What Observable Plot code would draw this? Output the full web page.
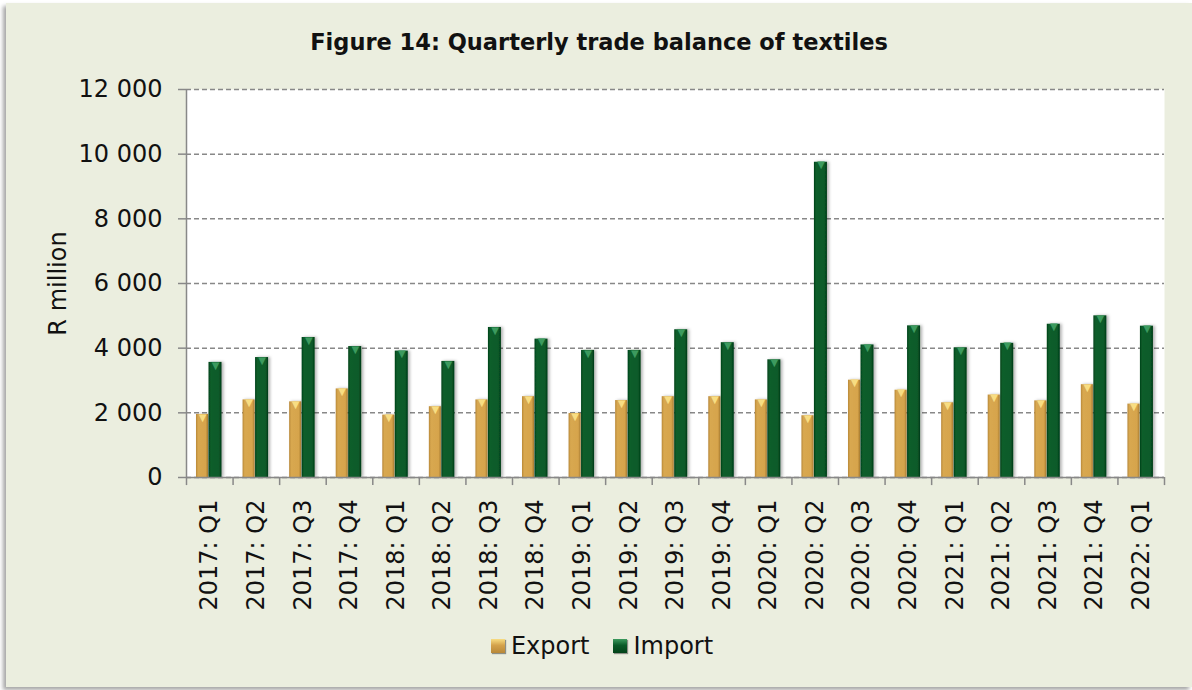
<!DOCTYPE html>
<html>
<head>
<meta charset="utf-8">
<script src="https://cdn.jsdelivr.net/npm/d3@7"></script>
<script src="https://cdn.jsdelivr.net/npm/@observablehq/plot@0.6"></script>
<style>
  html, body { margin: 0; padding: 0; background: #ffffff; }
  #page { position: relative; width: 1192px; height: 690px; overflow: hidden; font-family: "DejaVu Sans", sans-serif; }
  #frame { position: absolute; left: 6px; top: 3px; width: 1186px; height: 684px; background: #EBEEDF;
           box-shadow: -3px 3px 4px rgba(0,0,0,0.35); }
  #title { position: absolute; left: 6px; width: 1186px; top: 29px; text-align: center; font-weight: bold; font-size: 22.5px; color: #111; }
  #chart { position: absolute; left: 0; top: 60px; }
  #legend { position: absolute; left: 6px; width: 1192px; top: 632px; display: flex; justify-content: center; align-items: center; font-size: 24px; color: #111; }
  .sw { width: 14px; height: 14px; display: inline-block; margin-right: 6px; box-shadow: 1px 1px 1px rgba(0,0,0,0.4); }
  .item { display: flex; align-items: center; margin: 0 12px; }
</style>
</head>
<body>
<div id="page">
  <div id="frame"></div>
  <div id="title">Figure 14: Quarterly trade balance of textiles</div>
  <div id="chart"></div>
  <div id="legend"></div>
</div>
<script>
const quarters = ["2017: Q1","2017: Q2","2017: Q3","2017: Q4","2018: Q1","2018: Q2","2018: Q3","2018: Q4",
  "2019: Q1","2019: Q2","2019: Q3","2019: Q4","2020: Q1","2020: Q2","2020: Q3","2020: Q4",
  "2021: Q1","2021: Q2","2021: Q3","2021: Q4","2022: Q1"];
const exportValues = [1950, 2400, 2340, 2740, 1930, 2190, 2400, 2500, 1980, 2380, 2500, 2500, 2400, 1910, 3010, 2700, 2310, 2550, 2370, 2870, 2270];
const importValues = [3560, 3710, 4330, 4050, 3910, 3590, 4640, 4280, 3930, 3930, 4570, 4170, 3640, 9750, 4100, 4690, 4010, 4150, 4740, 5000, 4680];
const seriesNames = ["Export", "Import"];
const yTicks = [0, 2000, 4000, 6000, 8000, 10000, 12000];

const rows = quarters.flatMap((q, i) => [
  {quarter: q, series: seriesNames[0], value: exportValues[i]},
  {quarter: q, series: seriesNames[1], value: importValues[i]}
]);
const exp = rows.filter(d => d.series === "Export");
const imp = rows.filter(d => d.series === "Import");

const W = 1192, H = 570, mL = 186, mR = 28, mT = 29, mB = 153;
const step = (W - mL - mR) / quarters.length;
const fmt = d => d3.format(",")(d).replace(/,/g, " ");

const chart = Plot.plot({
  width: W, height: H,
  marginLeft: mL, marginRight: mR, marginTop: mT, marginBottom: mB,
  style: {fontFamily: "DejaVu Sans, sans-serif", fontSize: "24px", background: "transparent", color: "#111"},
  x: {domain: quarters, padding: 0, round: false},
  y: {domain: [0, 12000]},
  marks: [
    Plot.frame({fill: "white", stroke: "none"}),
    Plot.gridY(yTicks, {stroke: "#888", strokeOpacity: 1, strokeWidth: 1.5, strokeDasharray: "5,3"}),
    Plot.barY(exp, {x: "quarter", y: "value", fill: "url(#gExp)", insetLeft: 10, insetRight: step - 22}),
    Plot.barY(imp, {x: "quarter", y: "value", fill: "url(#gImp)", insetLeft: 22.5, insetRight: step - 35.5}),
    Plot.text(exp, {x: "quarter", y: "value", text: () => "▼", dx: -7.3, lineAnchor: "top", dy: -1, fontSize: 10, fill: "#F8DD82"}),
    Plot.text(imp, {x: "quarter", y: "value", text: () => "▼", dx: 5.8, lineAnchor: "top", dy: -1, fontSize: 10, fill: "#3C9A5E"}),
    Plot.ruleY([0], {stroke: "#888", strokeWidth: 1.5}),
    Plot.ruleX([quarters[0]], {y1: 0, y2: 12000, dx: -step / 2, stroke: "#888", strokeWidth: 1.5}),
    Plot.ruleX(quarters, {y1: 0, y2: -250, dx: -step / 2, stroke: "#888", strokeWidth: 1.5}),
    Plot.ruleX([quarters[quarters.length - 1]], {y1: 0, y2: -250, dx: step / 2, stroke: "#888", strokeWidth: 1.5}),
    Plot.axisY({ticks: yTicks, tickSize: 8, tickPadding: 16, tickFormat: fmt, fontSize: 24, label: null}),
    Plot.axisX({tickRotate: -90, tickSize: 0, tickPadding: 22, fontSize: 24, label: null}),
    Plot.text(["R million"], {frameAnchor: "left", dx: -128, rotate: -90, textAnchor: "middle", fontSize: 24, fill: "#111"})
  ]
});

const ns = "http://www.w3.org/2000/svg";
const defs = document.createElementNS(ns, "defs");
defs.innerHTML = `
  <linearGradient id="gExp" x1="0" x2="1" y1="0" y2="0">
    <stop offset="0" stop-color="#B88838"/><stop offset="0.18" stop-color="#D8A850"/>
    <stop offset="0.8" stop-color="#D6A44C"/><stop offset="1" stop-color="#A77B30"/>
  </linearGradient>
  <linearGradient id="gImp" x1="0" x2="1" y1="0" y2="0">
    <stop offset="0" stop-color="#034219"/><stop offset="0.18" stop-color="#0B5E2B"/>
    <stop offset="0.8" stop-color="#0A5A29"/><stop offset="1" stop-color="#023A16"/>
  </linearGradient>
  <filter id="sh" x="-50%" y="-10%" width="200%" height="120%">
    <feDropShadow dx="2" dy="0" stdDeviation="1.5" flood-color="#000" flood-opacity="0.3"/>
  </filter>`;
chart.insertBefore(defs, chart.firstChild);
chart.querySelectorAll('g[aria-label="bar"]').forEach(g => g.setAttribute("filter", "url(#sh)"));
chart.querySelectorAll('g[aria-label="y-axis tick"]').forEach(g => { g.setAttribute("stroke", "#888"); g.setAttribute("stroke-width", "1.5"); });
document.getElementById("chart").appendChild(chart);

const legend = document.getElementById("legend");
seriesNames.forEach((name, i) => {
  const item = document.createElement("div");
  item.className = "item";
  const sw = document.createElement("span");
  sw.className = "sw";
  sw.style.background = i === 0
    ? "linear-gradient(180deg, #F8DD82 0%, #D4A24B 45%, #B88838 100%)"
    : "linear-gradient(180deg, #3C9A5E 0%, #0A5A28 45%, #034219 100%)";
  const t = document.createElement("span");
  t.textContent = name;
  item.appendChild(sw); item.appendChild(t);
  legend.appendChild(item);
});
</script>
</body>
</html>
